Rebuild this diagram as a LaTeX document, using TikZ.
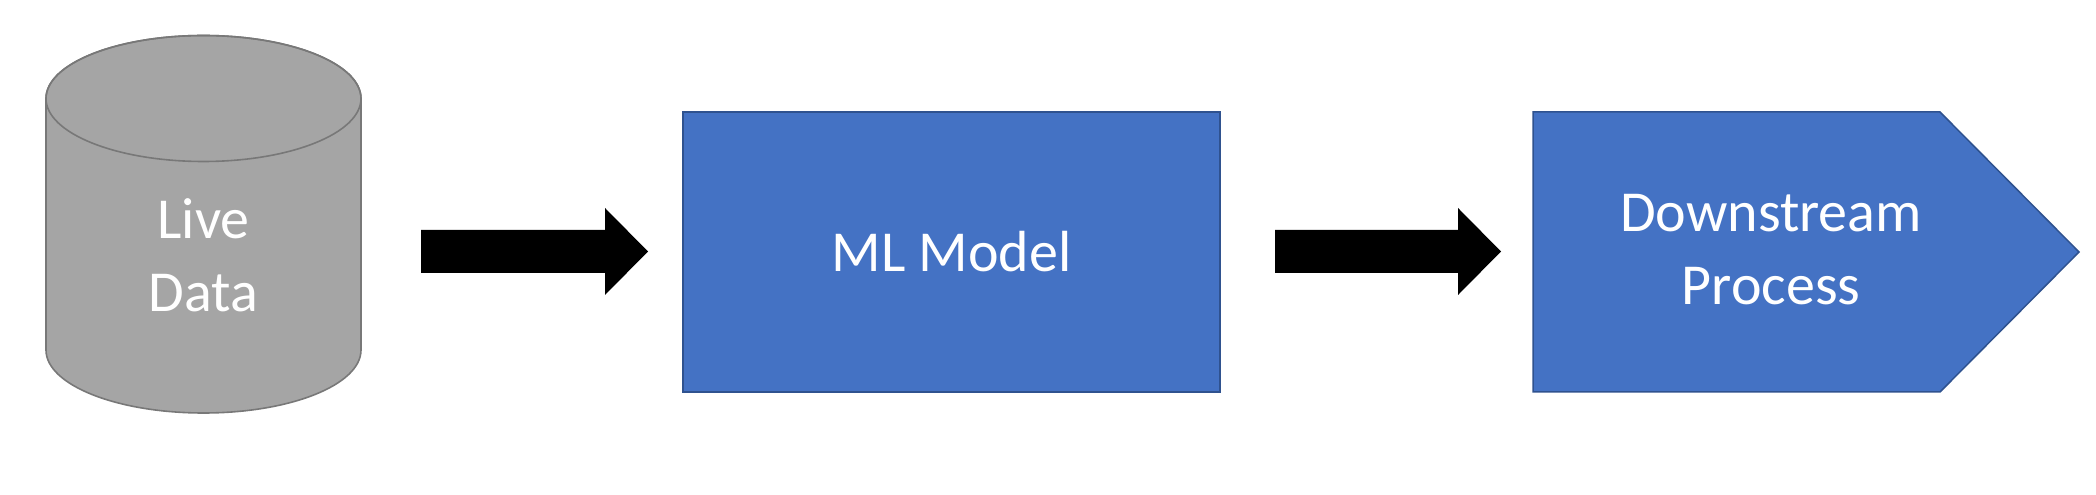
\documentclass[tikz,border=0pt]{standalone}
\usepackage{fontspec}
\setmainfont{Carlito}
\begin{document}
\begin{tikzpicture}[x=1pt,y=1pt,
  lbl/.style={text=white,align=center,inner sep=0pt,font=\fontsize{58}{73}\selectfont},
  bluebox/.style={fill=blueF,draw=blueD,line width=1.5pt},
  blockarrow/.style={fill=black}]
\definecolor{blueF}{HTML}{4472C4}
\definecolor{blueD}{HTML}{2F528F}
\definecolor{grayF}{HTML}{A5A5A5}
\definecolor{grayD}{HTML}{787878}
\useasboundingbox (0,0) rectangle (2096,495);
% cylinder
\fill[grayF,draw=grayD,line width=1.6pt] (46,396.5) -- (46,145) arc[start angle=180,end angle=360,x radius=157.5,y radius=63] -- (361,396.5) arc[start angle=0,end angle=180,x radius=157.5,y radius=63] -- cycle;
\draw[grayD,line width=1.6pt] (203.5,396.5) ellipse[x radius=157.5,y radius=63];
\node[lbl] (live) at (203.5,240) {Live\\Data};
% ML model
\node[bluebox,minimum width=537pt,minimum height=280pt,inner sep=0pt] (ml) at (951.5,243) {};
\node[lbl] (mltext) at (ml.center) {ML Model};
% downstream pentagon
\filldraw[bluebox] (1533,383) -- (1940,383) -- (2079,243) -- (1940,103) -- (1533,103) -- cycle;
\coordinate (ds) at (1806,243);
\node[lbl] (dstext) at (1771,245) {Downstream\\Process};
% arrows
\coordinate (a1) at (421,243.5);
\fill[blockarrow] (a1) ++(0,21.5) -- ++(184,0) -- ++(0,22) -- (648,243.5) -- (605,200) -- ++(0,22) -- ++(-184,0) -- cycle;
\coordinate (a2) at (1275,243.5);
\fill[blockarrow] (a2) ++(0,21.5) -- ++(183,0) -- ++(0,22) -- (1501,243.5) -- (1458,200) -- ++(0,22) -- ++(-183,0) -- cycle;
\end{tikzpicture}
\end{document}
